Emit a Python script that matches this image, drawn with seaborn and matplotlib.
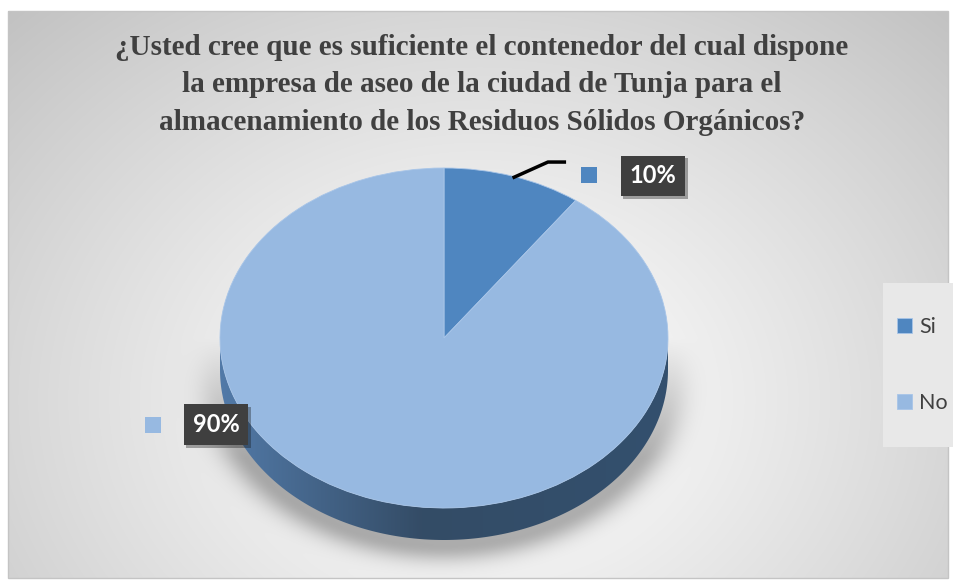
import numpy as np
import matplotlib
matplotlib.use("Agg")
import matplotlib.pyplot as plt
import seaborn as sns
from matplotlib.patches import Polygon, Rectangle
from matplotlib import patheffects as pe

# --- data -------------------------------------------------------------
categories = ["Si", "No"]
shares = [10, 90]
share_labels = ["10%", "90%"]
title = ("¿Usted cree que es suficiente el contenedor del cual dispone\n"
         "la empresa de aseo de la ciudad de Tunja para el\n"
         "almacenamiento de los Residuos Sólidos Orgánicos?")

top_colors = ["#4f86c0", "#97b9e1"]

sns.set_theme(style="white")
plt.rcParams["font.family"] = ["Lato", "DejaVu Sans"]

W, H = 954, 582
fig = plt.figure(figsize=(W / 100, H / 100), dpi=100)

# --- pie geometry (pixels) ---------------------------------------------
cx, cy, a, b, depth = 444, 338, 224, 170, 32
d = depth / b

# --- background: soft radial gray with a shadow under the pie -----------
bg = fig.add_axes([0, 0, 1, 1])
bg.set_axis_off()
yy, xx = np.mgrid[0:H, 0:W] + 0.5
r = np.sqrt(((xx - 480) / 520) ** 2 + ((yy - 400) / 420) ** 2)
val = 255 - 45 * r ** 1.2
q = np.sqrt(((xx - cx) / a) ** 2 + ((yy - (cy + depth + 5)) / b) ** 2)
dist = np.clip(q - 1, 0, None) * 180
shadow = 70 * np.exp(-(dist / 18) ** 2) * np.clip((yy - cy) / 120, 0, 1)
val = val - shadow
inside = (xx >= 8) & (xx <= 948) & (yy >= 11) & (yy <= 578)
val = np.where(inside, val, 255)
img = np.clip(val, 0, 255) / 255.0
bg.imshow(np.dstack([img, img, img]), extent=(0, W, H, 0), interpolation="bilinear")
bg.add_patch(Rectangle((8, 11), 940, 567, fill=False, ec="#c4c4c4", lw=1))
# legend panel
bg.add_patch(Rectangle((883, 283), 75, 164, fc="#e8e8e8", ec="none"))
bg.set_xlim(0, W)
bg.set_ylim(H, 0)

# --- pie axes -------------------------------------------------------------
ax = fig.add_axes([(cx - a) / W, (H - cy - b - depth) / H, 2 * a / W, (2 * b + depth) / H])

# side of the disc (visible front half)
t = np.linspace(np.pi, 2 * np.pi, 200)
sx = np.concatenate([np.cos(t), np.cos(t[::-1])])
sy = np.concatenate([np.sin(t), np.sin(t[::-1]) - d])
side = Polygon(np.column_stack([sx, sy]), closed=True, fc="none", ec="none")
ax.add_patch(side)
grad_x = np.linspace(0, 1, 256)
c_left = np.array([0x52, 0x7a, 0xa8]) / 255
c_mid = np.array([0x34, 0x4c, 0x66]) / 255
c_right = np.array([0x33, 0x50, 0x6e]) / 255
w1 = np.clip(grad_x / 0.45, 0, 1)[:, None]
w2 = np.clip((grad_x - 0.45) / 0.55, 0, 1)[:, None]
cols = np.where(grad_x[:, None] < 0.45, c_left * (1 - w1) + c_mid * w1, c_mid * (1 - w2) + c_right * w2)
grad = np.tile(cols[None, :, :], (10, 1, 1))
im = ax.imshow(grad, extent=(-1, 1, -1 - d, 0), aspect="auto", zorder=1)
im.set_clip_path(side)

wedges, _ = ax.pie(shares, colors=top_colors, startangle=90, counterclock=False,
                   radius=1, wedgeprops=dict(linewidth=0.6, edgecolor="#a8c5e8"))
for w in wedges:
    w.set_zorder(2)
ax.set_aspect("auto")
ax.set_xlim(-1, 1)
ax.set_ylim(-1 - d, 1)
ax.set_axis_off()

# --- data labels ----------------------------------------------------------
lab_pos = [(0.933, 0.953), (-1.018, -0.51)]
key_pos = [(0.647, 0.96), (-1.30, -0.51)]
for txt, (lx, ly), (kx, ky), c in zip(share_labels, lab_pos, key_pos, top_colors):
    t_ = ax.text(lx, ly, txt, ha="center", va="center", color="white", fontsize=17,
                 fontweight="bold", zorder=5, clip_on=False,
                 bbox=dict(boxstyle="square,pad=0.38", fc="#3f3f3f", ec="none"))
    t_.get_bbox_patch().set_path_effects([pe.SimplePatchShadow(offset=(2, -2), alpha=0.35), pe.Normal()])
    ax.scatter([kx], [ky], marker="s", s=120, color=c, clip_on=False, zorder=5, linewidths=0)

# leader line for the small slice
mid = np.deg2rad(90 - shares[0] / sum(shares) * 180)
x0, y0 = np.cos(mid) * 0.99, np.sin(mid) * 0.99
ax.plot([x0, 0.464, 0.545], [y0, 1.035, 1.035], color="black", lw=2.5,
        clip_on=False, zorder=4, solid_capstyle="butt")

# --- legend -------------------------------------------------------------
leg = fig.legend(wedges, categories, loc="center left",
                 bbox_to_anchor=(893 / W, 1 - 365 / H), frameon=False,
                 handlelength=0.7, handleheight=0.7, handletextpad=0.3,
                 labelspacing=2.6, fontsize=15.5, borderpad=0.2, borderaxespad=0)
for txt in leg.get_texts():
    txt.set_color("#404040")

# --- title --------------------------------------------------------------
fig.text(482 / W, 1 - 85 / H, title, ha="center", va="center",
         family=["Liberation Serif", "DejaVu Serif"], fontweight="bold",
         fontsize=21, color="#404040", linespacing=1.5)

fig.savefig("out.png", dpi=100)
